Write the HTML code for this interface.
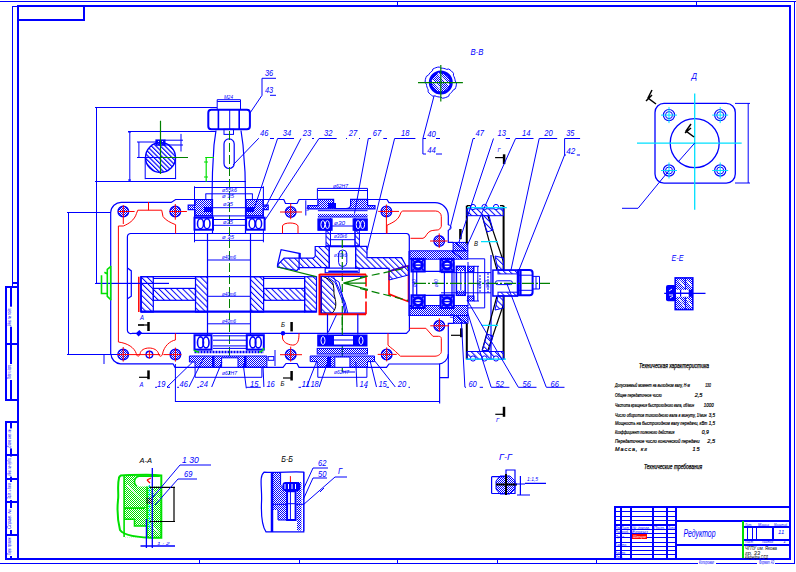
<!DOCTYPE html>
<html><head><meta charset="utf-8">
<style>
html,body{margin:0;padding:0;background:#fff;width:796px;height:572px;overflow:hidden}
svg{display:block}
text{font-family:"Liberation Sans",sans-serif;font-style:italic}
</style></head><body>
<svg width="796" height="572" viewBox="0 0 796 572">
<defs>
<pattern id="h" width="4.2" height="4.2" patternUnits="userSpaceOnUse" patternTransform="rotate(-45)"><rect x="0" y="0" width="1" height="4.2" fill="#0000ff"/></pattern>
<pattern id="h2" width="3.2" height="3.2" patternUnits="userSpaceOnUse" patternTransform="rotate(-45)"><rect x="0" y="0" width="1.2" height="3.2" fill="#0000ff"/></pattern>
<pattern id="xh" width="2" height="2" patternUnits="userSpaceOnUse"><rect x="0" y="0" width="1" height="1" fill="#0000ff"/><rect x="1" y="1" width="1" height="1" fill="#0000ff"/></pattern>
<pattern id="xg" width="2" height="2" patternUnits="userSpaceOnUse"><rect x="0" y="0" width="1" height="1" fill="#00e000"/><rect x="1" y="1" width="1" height="1" fill="#00e000"/></pattern>
</defs>
<g shape-rendering="crispEdges">
<path d="M0 1.5H796M12.5 6V286M12 6.5H17M794.5 1V564M0 563.5H795M397.5 1V5M696.5 1V5M199.5 559V563M299 559V563M397.5 559V563M497.5 559V563M596.5 559V563" stroke="#0000ff" stroke-width="1" fill="none" />
<path d="M17 6H791M18 5V560M790 5V560M5 559H791M17 20H85M84 5V21" stroke="#0000ff" stroke-width="2" fill="none" />
<path d="M6 286V401M6 421V559M11 286V401M11 421V559M5 287H18M5 344H18M5 400H18M5 422H18M5 455H18M5 479H18M5 502H18M5 535H18M12 282.5H18" stroke="#0000ff" stroke-width="2" fill="none" />
<path d="M614 507H790M615 506V559M631 507V559M653 507V559M667 507V559M676 507V559M676 521H790M676 545H790M614 525H676M621 507V559" stroke="#0000ff" stroke-width="2" fill="none" />
<path d="M614 511.5H676M614 516H676M614 520.5H676M614 529.5H676M614 533.5H676M614 537.5H676M614 542H676M614 546H676M614 550.5H676M614 554.5H676" stroke="#0000ff" stroke-width="1" fill="none" />
<path d="M743 527H790M743 539.5H790M773 526V539.5" stroke="#0000ff" stroke-width="2" fill="none" />
<path d="M747.5 527V539M752 527V539M756.5 527V539" stroke="#0000ff" stroke-width="1" fill="none" />
<path d="M743 521V558" stroke="#00e000" stroke-width="2" fill="none" />
</g>
<path d="M96.5 107V283.5M95 107.5H217M95 181.5H246M95 283.5H169M128 131.5H216" stroke="#0000ff" stroke-width="1" fill="none" />
<path d="M68.5 212V355M67 212.5H111M67 354.5H118M104 354V364" stroke="#0000ff" stroke-width="1" fill="none" />
<path d="M110.7 354V212.5A10.5 10.5 0 0 1 121.4 202.4H171.2L175.6 199.5H195M263 199.5H283.8L285.5 203.5H297L299 199.5H317M367.5 199.5H387L388.9 202.6H435A13.3 13.3 0 0 1 448.3 215.9V225M448.3 229.9V242.4H453.1" stroke="#0000ff" stroke-width="1.2" fill="none" />
<path d="M448.3 225C452 225 452 229.9 448.3 229.9" stroke="#0000ff" stroke-width="1" fill="none" />
<path d="M111 354A10 10 0 0 0 120.5 363.8H173L175 367.3H283L286 363.5H297L299 367.3H386.5L389 364H438.5A10 10 0 0 0 448.3 354.5V323.3H453.5" stroke="#0000ff" stroke-width="1.2" fill="none" />
<path d="M439.6 364V403.4M448.3 354V377.6H439.6" stroke="#0000ff" stroke-width="1.2" fill="none" />
<path d="M127.4 330V236.7A3.5 3.5 0 0 1 130.9 233.5H406.5A3 3 0 0 1 409.3 236.4V251" stroke="#0000ff" stroke-width="1.2" fill="none" />
<path d="M127.4 330A3.5 3.5 0 0 0 132.4 333.3H406.4L409.4 330.3V315" stroke="#0000ff" stroke-width="1.2" fill="none" />
<path d="M118.4 226V342M118.4 226H123.3C128.3 224 134.6 220.3 136.5 213.4L137.8 210.2H161.7L163 216.5C165.5 220.3 170.5 222.6 175.6 224.7V233.5M148.5 202V210.2" stroke="#ff0000" stroke-width="1" fill="none" />
<path d="M118.4 342C128 343.3 134.3 347.7 136.2 353.4C137 357 139 357 140 354C141 346 157 346 158.6 354C159.5 357 161.5 357 162.5 354C164 346 170 341 175.4 340V333.3" stroke="#ff0000" stroke-width="1" fill="none" />
<path d="M282.5 226C283 222 297 222 298 226V233.5M282.5 226V233.5" stroke="#ff0000" stroke-width="1" fill="none" />
<path d="M282.5 333.3V338C283 343 290 345.5 294 345C298 344 299 340 299 333.3" stroke="#ff0000" stroke-width="1" fill="none" />
<path d="M387 233.5V225.3C394 222 399 219.6 400.9 212.4L402.7 211H435.7A5.6 5.6 0 0 1 441.3 216.6V226.4C440.5 228.5 439 229.9 437.8 229.9C434 230.2 431 230.6 430 231.3C427 233 426 236 425.2 236.9L423 238.3H410.5" stroke="#ff0000" stroke-width="1" fill="none" />
<path d="M388 333.3V345.2C391 348 394 350 395.5 351.5L400.5 356.2H435C438 356.2 441.3 354 441.3 351.7V338.4C441.3 337 440 336.3 438.5 336.3H432.9L425.9 328.3H409.4" stroke="#ff0000" stroke-width="1" fill="none" />
<circle cx="123.3" cy="211.5" r="5.3" fill="url(#xh)" stroke="#0000ff" stroke-width="1.4" />
<line x1="118.3" y1="211.5" x2="134.6" y2="211.5" stroke="#ff0000" stroke-width="1" />
<line x1="123.3" y1="205.2" x2="123.3" y2="224.0" stroke="#ff0000" stroke-width="1" />
<circle cx="175.3" cy="211.5" r="5.3" fill="url(#xh)" stroke="#0000ff" stroke-width="1.4" />
<line x1="169.3" y1="211.5" x2="186.9" y2="211.5" stroke="#ff0000" stroke-width="1" />
<line x1="175.3" y1="204.0" x2="175.3" y2="219.7" stroke="#ff0000" stroke-width="1" />
<circle cx="290.7" cy="212" r="5.3" fill="url(#xh)" stroke="#0000ff" stroke-width="1.4" />
<line x1="280.0" y1="212" x2="302.0" y2="212" stroke="#ff0000" stroke-width="1" />
<line x1="290.7" y1="203.5" x2="290.7" y2="219.2" stroke="#ff0000" stroke-width="1" />
<circle cx="386.4" cy="211.4" r="5.3" fill="url(#xh)" stroke="#0000ff" stroke-width="1.4" />
<line x1="378.2" y1="211.4" x2="399.0" y2="211.4" stroke="#ff0000" stroke-width="1" />
<line x1="386.4" y1="204.5" x2="386.4" y2="233.4" stroke="#ff0000" stroke-width="1" />
<circle cx="439.2" cy="241" r="5.3" fill="url(#xh)" stroke="#0000ff" stroke-width="1.4" />
<line x1="430.0" y1="241" x2="447.59999999999997" y2="241" stroke="#ff0000" stroke-width="1" />
<line x1="439.2" y1="233.4" x2="439.2" y2="248" stroke="#ff0000" stroke-width="1" />
<circle cx="123.2" cy="354.6" r="5.3" fill="url(#xh)" stroke="#0000ff" stroke-width="1.4" />
<line x1="117.2" y1="354.6" x2="160.2" y2="354.6" stroke="#ff0000" stroke-width="1" />
<line x1="123.2" y1="347.0" x2="123.2" y2="361.6" stroke="#ff0000" stroke-width="1" />
<circle cx="175.4" cy="354.6" r="5.3" fill="url(#xh)" stroke="#0000ff" stroke-width="1.4" />
<line x1="163.4" y1="354.6" x2="181.4" y2="354.6" stroke="#ff0000" stroke-width="1" />
<line x1="175.4" y1="347.6" x2="175.4" y2="361.6" stroke="#ff0000" stroke-width="1" />
<circle cx="290.7" cy="354.7" r="5.3" fill="url(#xh)" stroke="#0000ff" stroke-width="1.4" />
<line x1="280.0" y1="354.7" x2="302.0" y2="354.7" stroke="#ff0000" stroke-width="1" />
<line x1="290.7" y1="346.7" x2="290.7" y2="361.7" stroke="#ff0000" stroke-width="1" />
<circle cx="386.7" cy="354.4" r="5.3" fill="url(#xh)" stroke="#0000ff" stroke-width="1.4" />
<line x1="377.7" y1="354.4" x2="396.7" y2="354.4" stroke="#ff0000" stroke-width="1" />
<line x1="386.7" y1="347.4" x2="386.7" y2="361.4" stroke="#ff0000" stroke-width="1" />
<circle cx="439.3" cy="325.8" r="5.3" fill="url(#xh)" stroke="#0000ff" stroke-width="1.4" />
<line x1="430.3" y1="325.8" x2="449.1" y2="325.8" stroke="#ff0000" stroke-width="1" />
<line x1="439.3" y1="318.3" x2="439.3" y2="331.5" stroke="#ff0000" stroke-width="1" />
<circle cx="149.4" cy="354.6" r="3.3" fill="#fff" stroke="#0000ff" stroke-width="1.4" />
<line x1="145.4" y1="354.6" x2="153.4" y2="354.6" stroke="#ff0000" stroke-width="1" />
<line x1="149.4" y1="350.6" x2="149.4" y2="358.6" stroke="#ff0000" stroke-width="1" />
<rect x="208.3" y="109.7" width="41.6" height="19.6" rx="3" fill="#fff" stroke="#0000ff" stroke-width="2"/>
<path d="M218.4 110V129M239.2 110V129" stroke="#0000ff" stroke-width="1.6" fill="none" />
<path d="M229.7 110V129" stroke="#0000ff" stroke-width="1" fill="none" />
<path d="M217.2 109V99.7H240.5V109M217.2 101.5H240.5" stroke="#0000ff" stroke-width="1" fill="none" />
<rect x="224" y="129.3" width="9.5" height="5.099999999999994" fill="none" stroke="#0000ff" stroke-width="1" />
<path d="M216 130.5L214 145L212.5 172L212 199M241 130.5L243 145L245 172L245.5 199" stroke="#0000ff" stroke-width="1.2" fill="none" />
<rect x="224" y="138.9" width="10.2" height="29.6" rx="5" fill="none" stroke="#0000ff" stroke-width="1.2"/>
<path d="M229.5 131V374" stroke="#008000" stroke-width="1" fill="none" stroke-dasharray="9 3"/>
<path d="M205.2 157.5H214M206.2 157.5V181.7M204 162H208M204 177H208" stroke="#00e000" stroke-width="1.2" fill="none" />
<path d="M194.5 186.3V242.3M263.4 186.3V242.3M194 187.5H264M194 240.4H264" stroke="#0000ff" stroke-width="1" fill="none" />
<path d="M205.8 193.8V199M252.4 193.8V199M205.5 193.8H252.7" stroke="#0000ff" stroke-width="1" fill="none" />
<path d="M212.5 199V233M245.5 199V233M207.5 233V333M250.5 233V333" stroke="#0000ff" stroke-width="1.2" fill="none" />
<path d="M195.1 199.5H212.1V215.9H195.1V209.6H188.2V205.2H195.1Z" stroke="#0000ff" stroke-width="1.2" fill="url(#xh)" />
<path d="M263.1 199.5H246.1V215.9H263.1V209.6H268.2V205.2H263.1Z" stroke="#0000ff" stroke-width="1.2" fill="url(#xh)" />
<rect x="204" y="207" width="8" height="5" fill="#0000ff" stroke="none" />
<rect x="246" y="207" width="8" height="5" fill="#0000ff" stroke="none" />
<path d="M212.5 207.7H245.5M195 215.9H263M212.5 225.3H245.5M212.5 219.5H245.5" stroke="#0000ff" stroke-width="1" fill="none" />
<rect x="194.5" y="217.7" width="18.5" height="12.0" fill="#fff" stroke="#0000ff" stroke-width="2" />
<ellipse cx="200.5" cy="223.7" rx="3" ry="5" fill="none" stroke="#0000ff" stroke-width="1.5"/>
<ellipse cx="207.0" cy="223.7" rx="3" ry="5" fill="none" stroke="#0000ff" stroke-width="1.5"/>
<rect x="246.1" y="217.7" width="18.50000000000003" height="12.0" fill="#fff" stroke="#0000ff" stroke-width="2" />
<ellipse cx="252.1" cy="223.7" rx="3" ry="5" fill="none" stroke="#0000ff" stroke-width="1.5"/>
<ellipse cx="258.6" cy="223.7" rx="3" ry="5" fill="none" stroke="#0000ff" stroke-width="1.5"/>
<path d="M207.5 260H250.5M207.5 296.3H250.5M207.5 323.8H250.5" stroke="#0000ff" stroke-width="1" fill="none" />
<path d="M141 276.7H304.6V312H141Z" stroke="#0000ff" stroke-width="1.2" fill="none" />
<path d="M141 276.7V312" stroke="#0000ff" stroke-width="1.2" fill="none" />
<path d="M138.8 276.7V312" stroke="#ff0000" stroke-width="1.5" fill="none" />
<rect x="141" y="276.7" width="12.300000000000011" height="35.30000000000001" fill="url(#h)" stroke="#0000ff" stroke-width="1.2" />
<rect x="195.5" y="276.7" width="12.0" height="35.30000000000001" fill="url(#h)" stroke="#0000ff" stroke-width="1.2" />
<rect x="250.5" y="276.7" width="13.100000000000023" height="35.30000000000001" fill="url(#h)" stroke="#0000ff" stroke-width="1.2" />
<rect x="304.6" y="276.7" width="11.899999999999977" height="35.30000000000001" fill="url(#h)" stroke="#0000ff" stroke-width="1.2" />
<rect x="153.3" y="288.4" width="42.19999999999999" height="11.900000000000034" fill="url(#h)" stroke="#0000ff" stroke-width="1.2" />
<rect x="263.6" y="288.4" width="41.0" height="11.900000000000034" fill="url(#h)" stroke="#0000ff" stroke-width="1.2" />
<path d="M153.3 278.5H195.5M263.6 278.5H304.6" stroke="#0000ff" stroke-width="1" fill="none" />
<path d="M141 311.5H316.5" stroke="#0000ff" stroke-width="2" fill="none" />
<path d="M96 283.3H169" stroke="#0000ff" stroke-width="1" fill="none" />
<path d="M110.7 266V300.2M111.3 266L107.3 269.4V296.3L111.3 300.2M101.5 275.2V293.5H107.3M104.4 272.3L107.3 274" stroke="#00e000" stroke-width="1.6" fill="none" />
<path d="M127.5 268L131.3 270.9V296.3L127.5 298.8" stroke="#0000ff" stroke-width="1.2" fill="none" />
<path d="M317.4 199V188.4H367.5V199M317.4 190.5H367.5" stroke="#0000ff" stroke-width="1" fill="none" />
<path d="M317.9 199.4H333.6V206C334 208 336 208.5 338 208.5H346C349 208.5 350.6 207 350.6 205V199.4H367.6V205.7H375V208.9H307.8V205.7H317.9Z" stroke="#0000ff" stroke-width="1.2" fill="url(#xh)" />
<rect x="328" y="203" width="8" height="5.5" fill="#0000ff" stroke="none" />
<path d="M317.9 210.7H367.6M317.9 217H367.6" stroke="#0000ff" stroke-width="1" fill="none" />
<rect x="317.9" y="213.9" width="49.700000000000045" height="3.0999999999999943" fill="url(#xh)" stroke="none" />
<path d="M305.8 200.3V215.5" stroke="#0000ff" stroke-width="1" fill="none" />
<rect x="317.9" y="218.9" width="14.199999999999989" height="11.400000000000006" fill="#0000ff" stroke="#0000ff" stroke-width="1" />
<ellipse cx="322.9" cy="224.6" rx="2" ry="4" fill="none" stroke="#fff" stroke-width="1"/>
<ellipse cx="327.4" cy="224.6" rx="2" ry="4" fill="none" stroke="#fff" stroke-width="1"/>
<rect x="353.1" y="218.9" width="14.199999999999989" height="11.400000000000006" fill="#0000ff" stroke="#0000ff" stroke-width="1" />
<ellipse cx="358.1" cy="224.6" rx="2" ry="4" fill="none" stroke="#fff" stroke-width="1"/>
<ellipse cx="362.6" cy="224.6" rx="2" ry="4" fill="none" stroke="#fff" stroke-width="1"/>
<rect x="326" y="230.3" width="4.5" height="15.699999999999989" fill="url(#h)" stroke="#0000ff" stroke-width="1" />
<rect x="355" y="230.3" width="4.399999999999977" height="15.699999999999989" fill="url(#h)" stroke="#0000ff" stroke-width="1" />
<path d="M330.5 218V246M355 218V246M330.5 239.7H355M331 226H354" stroke="#0000ff" stroke-width="1" fill="none" />
<path d="M326 246.3H359.4" stroke="#0000ff" stroke-width="2" fill="none" />
<path d="M315.2 246.5H329.3V267.6H299L297 270.7L277.5 267L277.5 265.1L284.1 258.1H313.2C314.5 257.5 315.2 256.5 315.2 256.1Z" stroke="#0000ff" stroke-width="1.2" fill="url(#h)" />
<path d="M355.6 246.3H367V257.6H401.6L406 265.8L389 271V268.3H355.6Z" stroke="#0000ff" stroke-width="1.2" fill="url(#h)" />
<path d="M277.5 265L281.1 249.6L300.2 253.6V258.1M299.1 253.6V270" stroke="#0000ff" stroke-width="1.2" fill="none" />
<path d="M329.2 246.3V268.3M355.6 246.3V268.3" stroke="#0000ff" stroke-width="1.2" fill="none" />
<rect x="338.6" y="250" width="8.2" height="16.5" rx="4" fill="none" stroke="#0000ff" stroke-width="1"/>
<path d="M342.3 240V330" stroke="#008000" stroke-width="1.2" fill="none" stroke-dasharray="8 3"/>
<rect x="325.2" y="268.1" width="33.900000000000034" height="4.699999999999989" fill="none" stroke="#0000ff" stroke-width="1.2" />
<path d="M328.3 271.3H357.9" stroke="#0000ff" stroke-width="1.5" fill="none" />
<path d="M321.4 276.3H322.6C327 278 331 280 332.7 282.6C334 287 334 291 334 294C335 298 335.8 301 335.8 304C335.8 307 335.2 310.3 332 313.2H321.4Z" stroke="#000000" stroke-width="1" fill="url(#h)" />
<path d="M320.8 276V313.5" stroke="#0000ff" stroke-width="2" fill="none" />
<path d="M319 276.3H366M319 313.2H366" stroke="#0000ff" stroke-width="1.2" fill="none" />
<path d="M319.5 274.4H366M319.5 274V314.3H366" stroke="#ff0000" stroke-width="2" fill="none" />
<path d="M366 274.4V314.3" stroke="#ff0000" stroke-width="1.6" fill="none" stroke-dasharray="12 3 9 3 20"/>
<path d="M327 276.3L335.2 282.6L342.8 301.5L344.7 313.2M333.3 276.3L345.3 302.7L347.8 313.2M330 276.3L339 282L344 302L346 313" stroke="#0000ff" stroke-width="1" fill="none" />
<path d="M277.5 267L316.2 276.7" stroke="#008000" stroke-width="1.2" fill="none" />
<path d="M343.4 283.2L365.4 277M343.4 283.2L368 289.5M343.4 283.2H366" stroke="#008000" stroke-width="1.2" fill="none" />
<path d="M328.3 332.3L336.5 314.7" stroke="#0000ff" stroke-width="1" fill="none" />
<path d="M389 271.4L408.5 265.8V301.7L389 294.1Z" stroke="#ff0000" stroke-width="1.6" fill="none" />
<path d="M389 271.4L408.5 265.8V275L389 280Z" stroke="#0000ff" stroke-width="1" fill="url(#h)" />
<path d="M360 277.7L408 267.7M360 288.5L408 300.4" stroke="#008000" stroke-width="1.2" fill="none" stroke-dasharray="8 4"/>
<path d="M409.1 251V316" stroke="#0000ff" stroke-width="1.5" fill="none" />
<rect x="409.8" y="250.8" width="58.0" height="8.399999999999977" fill="url(#xh)" stroke="#0000ff" stroke-width="1" />
<rect x="409.8" y="305.5" width="58.0" height="10.0" fill="url(#xh)" stroke="#0000ff" stroke-width="1" />
<rect x="453.1" y="242.4" width="14.699999999999989" height="8.400000000000006" fill="url(#xh)" stroke="#0000ff" stroke-width="1" />
<rect x="453.5" y="315.5" width="14.5" height="7.800000000000011" fill="url(#xh)" stroke="#0000ff" stroke-width="1" />
<path d="M452 251L462 259M456 243L466 251M456 316L466 323" stroke="#0000ff" stroke-width="1.2" fill="none" />
<rect x="411.6" y="258.9" width="13.0" height="12.5" fill="#fff" stroke="#0000ff" stroke-width="2.2" />
<ellipse cx="418.1" cy="265.09999999999997" rx="4.3" ry="3.9" fill="#fff" stroke="#0000ff" stroke-width="3"/>
<path d="M414.6 265.09999999999997H421.6" stroke="#0000ff" stroke-width="1.5" fill="none" />
<path d="M412.6 259.9L414.6 261.9M423.6 259.9L421.6 261.9M412.6 270.4L414.6 268.4M423.6 270.4L421.6 268.4" stroke="#0000ff" stroke-width="1.5" fill="none" />
<rect x="411.6" y="295.4" width="13.0" height="12.5" fill="#fff" stroke="#0000ff" stroke-width="2.2" />
<ellipse cx="418.1" cy="301.59999999999997" rx="4.3" ry="3.9" fill="#fff" stroke="#0000ff" stroke-width="3"/>
<path d="M414.6 301.59999999999997H421.6" stroke="#0000ff" stroke-width="1.5" fill="none" />
<path d="M412.6 296.4L414.6 298.4M423.6 296.4L421.6 298.4M412.6 306.9L414.6 304.9M423.6 306.9L421.6 304.9" stroke="#0000ff" stroke-width="1.5" fill="none" />
<rect x="440.6" y="258.9" width="13.0" height="12.5" fill="#fff" stroke="#0000ff" stroke-width="2.2" />
<ellipse cx="447.1" cy="265.09999999999997" rx="4.3" ry="3.9" fill="#fff" stroke="#0000ff" stroke-width="3"/>
<path d="M443.6 265.09999999999997H450.6" stroke="#0000ff" stroke-width="1.5" fill="none" />
<path d="M441.6 259.9L443.6 261.9M452.6 259.9L450.6 261.9M441.6 270.4L443.6 268.4M452.6 270.4L450.6 268.4" stroke="#0000ff" stroke-width="1.5" fill="none" />
<rect x="440.6" y="295.4" width="13.0" height="12.5" fill="#fff" stroke="#0000ff" stroke-width="2.2" />
<ellipse cx="447.1" cy="301.59999999999997" rx="4.3" ry="3.9" fill="#fff" stroke="#0000ff" stroke-width="3"/>
<path d="M443.6 301.59999999999997H450.6" stroke="#0000ff" stroke-width="1.5" fill="none" />
<path d="M441.6 296.4L443.6 298.4M452.6 296.4L450.6 298.4M441.6 306.9L443.6 304.9M452.6 306.9L450.6 304.9" stroke="#0000ff" stroke-width="1.5" fill="none" />
<path d="M424 271.4H440.6M424 295.4H440.6M416.7 271V296M444.4 271V296M413 271.4V295.4M452 271.4V295.4" stroke="#0000ff" stroke-width="1.2" fill="none" />
<path d="M441 272.6H491M441 292.8H491" stroke="#0000ff" stroke-width="1" fill="none" />
<rect x="456.4" y="266.3" width="8.800000000000011" height="29.0" fill="none" stroke="#0000ff" stroke-width="1.5" />
<rect x="456.4" y="266.3" width="8.800000000000011" height="4.699999999999989" fill="url(#xh)" stroke="none" />
<rect x="456.4" y="290.5" width="8.800000000000011" height="4.800000000000011" fill="url(#xh)" stroke="none" />
<rect x="467.7" y="266.3" width="6.300000000000011" height="5.099999999999966" fill="url(#xh)" stroke="#0000ff" stroke-width="1" />
<rect x="467.7" y="296" width="6.300000000000011" height="5" fill="url(#xh)" stroke="#0000ff" stroke-width="1" />
<path d="M460.8 271V290M473.4 266V301M477.8 266V301M484.7 258.8V307.9M467.7 258.8H484.7M467.7 307.9H484.7M474 266.3H479M474 301H479" stroke="#0000ff" stroke-width="1" fill="none" />
<path d="M480 275V292M488 273V294" stroke="#0000ff" stroke-width="1" fill="none" stroke-dasharray="2 1"/>
<path d="M454 262V306M468 262V306" stroke="#0000ff" stroke-width="1" fill="none" />
<path d="M491 255V360" stroke="#0000ff" stroke-width="1.2" fill="none" />
<path d="M466.8 205.7V243.5M466.8 323.5V359.5M503.6 205.7V270M503.6 296V359.5" stroke="#000000" stroke-width="2" fill="none" />
<path d="M466.8 205.7H471M500 205.7H503.6" stroke="#000000" stroke-width="1.2" fill="none" />
<path d="M466.8 208.8H503.6V215.7H466.8Z" stroke="#0000ff" stroke-width="1" fill="url(#h)" />
<path d="M466.8 351.5H503.6V359.2H466.8Z" stroke="#0000ff" stroke-width="1" fill="url(#h)" />
<circle cx="473" cy="207" r="2.6" fill="#fff" stroke="#0000ff" stroke-width="1" />
<circle cx="473" cy="358.5" r="2.6" fill="#fff" stroke="#0000ff" stroke-width="1" />
<circle cx="484.5" cy="207" r="2.6" fill="#fff" stroke="#0000ff" stroke-width="1" />
<circle cx="484.5" cy="358.5" r="2.6" fill="#fff" stroke="#0000ff" stroke-width="1" />
<circle cx="496" cy="207" r="2.6" fill="#fff" stroke="#0000ff" stroke-width="1" />
<circle cx="496" cy="358.5" r="2.6" fill="#fff" stroke="#0000ff" stroke-width="1" />
<path d="M467 207.6H506.8M466 359.2H506" stroke="#00e0ff" stroke-width="1.2" fill="none" />
<path d="M482.2 215.7L497 270M487.9 215.7L503.6 262M482.2 350.5L497 296M487.9 350.5L503.6 304" stroke="#000000" stroke-width="1.2" fill="none" />
<path d="M482.2 215.7H489L493 230L487 232Z" stroke="#0000ff" stroke-width="1" fill="url(#h)" />
<path d="M495 256L503.6 258V270H498Z" stroke="#0000ff" stroke-width="1" fill="url(#h)" />
<path d="M495 310L503.6 308V296H498Z" stroke="#0000ff" stroke-width="1" fill="url(#h)" />
<path d="M482.2 350.5H489L493 336L487 334Z" stroke="#0000ff" stroke-width="1" fill="url(#h)" />
<path d="M481 241.6H497.9M481.5 325.3H498.1" stroke="#00e0ff" stroke-width="1.2" fill="none" />
<text x="474" y="246" font-size="6.94" fill="#000000" textLength="4.0" lengthAdjust="spacingAndGlyphs">В</text>
<rect x="492.9" y="270.1" width="24.600000000000023" height="25.899999999999977" fill="none" stroke="#0000ff" stroke-width="1.5" />
<rect x="498" y="270.1" width="19.5" height="3.7999999999999545" fill="url(#h)" stroke="#0000ff" stroke-width="1" />
<rect x="498" y="292.2" width="19.5" height="3.8000000000000114" fill="url(#h)" stroke="#0000ff" stroke-width="1" />
<rect x="495.4" y="280.8" width="17" height="3.8" rx="1.9" fill="none" stroke="#0000ff" stroke-width="1"/>
<path d="M518.7 270.1H529.6Q532.6 270.1 532.6 273.1V292.3Q532.6 295.3 529.6 295.3H518.7Z" fill="#fff" stroke="#0000ff" stroke-width="2"/>
<path d="M520.6 271V295" stroke="#0000ff" stroke-width="2" fill="none" />
<path d="M518.7 275.2H532.6M518.7 290.3H532.6" stroke="#0000ff" stroke-width="1" fill="none" />
<path d="M532.6 276.4H539.5V289H532.6M536 276.4V289" stroke="#0000ff" stroke-width="1" fill="none" />
<path d="M414 283.4H550" stroke="#008000" stroke-width="1.2" fill="none" stroke-dasharray="12 2 2 2"/>
<path d="M207.5 333V335M250.5 333V335" stroke="#0000ff" stroke-width="1" fill="none" />
<rect x="194.5" y="335.2" width="17.0" height="14.400000000000034" fill="#fff" stroke="#0000ff" stroke-width="2" />
<ellipse cx="200.5" cy="342.4" rx="3" ry="5.5" fill="none" stroke="#0000ff" stroke-width="1.6"/>
<ellipse cx="206.0" cy="342.4" rx="3" ry="5.5" fill="none" stroke="#0000ff" stroke-width="1.6"/>
<rect x="246.8" y="335.2" width="17.0" height="14.400000000000034" fill="#fff" stroke="#0000ff" stroke-width="2" />
<ellipse cx="252.8" cy="342.4" rx="3" ry="5.5" fill="none" stroke="#0000ff" stroke-width="1.6"/>
<ellipse cx="258.3" cy="342.4" rx="3" ry="5.5" fill="none" stroke="#0000ff" stroke-width="1.6"/>
<path d="M213 335.8H246M213 340.2H246M213 345.9H246M213 348.4H246" stroke="#0000ff" stroke-width="1" fill="none" />
<path d="M194.5 352H263.8" stroke="#0000ff" stroke-width="2.5" fill="none" stroke-dasharray="2 1"/>
<path d="M189.4 356H266.9V367.3H195V362H189.4Z" stroke="#0000ff" stroke-width="1" fill="url(#xh)" />
<rect x="221.6" y="357.8" width="16.400000000000006" height="9.5" fill="#fff" stroke="#0000ff" stroke-width="1" />
<rect x="212" y="356" width="2.5" height="11.300000000000011" fill="#0000ff" stroke="none" />
<rect x="244" y="356" width="2.5" height="11.300000000000011" fill="#0000ff" stroke="none" />
<path d="M195.1 367V377.3H261.9V367" stroke="#0000ff" stroke-width="1" fill="none" />
<rect x="268.2" y="356.6" width="5.600000000000023" height="3.6999999999999886" fill="none" stroke="#0000ff" stroke-width="1" />
<path d="M275 350V366" stroke="#0000ff" stroke-width="1" fill="none" />
<path d="M194 350C196 352 197 352 199 352M259 352C262 352 263 350 264 348" stroke="#00e000" stroke-width="1.5" fill="none" />
<path d="M327.5 314V334.5M357.8 314V334.5" stroke="#0000ff" stroke-width="1.2" fill="none" />
<path d="M342.3 314V372" stroke="#008000" stroke-width="1.2" fill="none" />
<rect x="317.2" y="334.5" width="50.30000000000001" height="12.0" fill="#0000ff" stroke="none" />
<ellipse cx="323" cy="340.5" rx="2" ry="4" fill="none" stroke="#fff" stroke-width="1"/>
<ellipse cx="361" cy="340.5" rx="2" ry="4" fill="none" stroke="#fff" stroke-width="1"/>
<rect x="334" y="336" width="19" height="8.5" fill="#fff" stroke="none" />
<path d="M334 340H353" stroke="#0000ff" stroke-width="1" fill="none" />
<rect x="317.2" y="348.4" width="50.30000000000001" height="5.600000000000023" fill="url(#xh)" stroke="#0000ff" stroke-width="1" />
<path d="M310.2 356H374.5V361.6H367.5V367.3H317.2V361.6H310.2Z" stroke="#0000ff" stroke-width="1" fill="url(#xh)" />
<rect x="334.8" y="357" width="15.099999999999966" height="10.300000000000011" fill="#fff" stroke="#0000ff" stroke-width="1" />
<rect x="327" y="357" width="4" height="10" fill="#0000ff" stroke="none" />
<path d="M317.8 367V377.3H366.9V367M342 372H355" stroke="#0000ff" stroke-width="1" fill="none" />
<path d="M175.4 364V402M175 401.5H440" stroke="#0000ff" stroke-width="1" fill="none" />
<path d="M148.5 322V331" stroke="#000000" stroke-width="2.5" fill="none" />
<path d="M138 325H148.5" stroke="#000000" stroke-width="1.2" fill="none" />
<path d="M148.5 370.4V379.2" stroke="#000000" stroke-width="2.5" fill="none" />
<path d="M139 377.3H148.5" stroke="#000000" stroke-width="1.2" fill="none" />
<path d="M291.6 322V331.4" stroke="#000000" stroke-width="2.5" fill="none" />
<path d="M291.6 371V380.5" stroke="#000000" stroke-width="2.5" fill="none" />
<path d="M283 378H291.6" stroke="#000000" stroke-width="1.2" fill="none" />
<path d="M461.3 328.3V337.2" stroke="#000000" stroke-width="2.5" fill="none" />
<path d="M451 335.3H461.3" stroke="#000000" stroke-width="1.2" fill="none" />
<path d="M504.1 154.3V164.1" stroke="#000000" stroke-width="2.5" fill="none" />
<path d="M495.1 157.6H504.1" stroke="#000000" stroke-width="1.2" fill="none" />
<path d="M460.4 229V239.2" stroke="#000000" stroke-width="2.5" fill="none" />
<path d="M504 406.8V416.8" stroke="#000000" stroke-width="2.5" fill="none" />
<path d="M495.3 414.3H504" stroke="#000000" stroke-width="1.2" fill="none" />
<path d="M138 325H144" stroke="#000000" stroke-width="1.2" fill="none" />
<rect x="137" y="331" width="4" height="5" fill="#0000ff" stroke="none" transform="rotate(45 139.3 333.3)"/>
<circle cx="283" cy="333.3" r="2.2" fill="#0000ff" stroke="none" />
<text x="140" y="320" font-size="6.94" fill="#0000ff" textLength="4.0" lengthAdjust="spacingAndGlyphs">А</text>
<text x="139.5" y="387" font-size="6.94" fill="#0000ff" textLength="4.0" lengthAdjust="spacingAndGlyphs">А</text>
<text x="281" y="327" font-size="6.94" fill="#000000" textLength="4.0" lengthAdjust="spacingAndGlyphs">Б</text>
<text x="450" y="318" font-size="6" fill="#0000ff" >В</text>
<text x="496" y="422" font-size="6" fill="#0000ff" >Г</text>
<path d="M270 138.5H274" stroke="#0000ff" stroke-width="1" fill="none" />
<text x="260" y="136.3" font-size="9.72" fill="#0000ff" textLength="8.4" lengthAdjust="spacingAndGlyphs">46</text>
<path d="M258.8 138.2L233 165" stroke="#0000ff" stroke-width="1" fill="none" />
<path d="M277.6 138.5H294" stroke="#0000ff" stroke-width="1" fill="none" />
<text x="282.7" y="136.3" font-size="9.72" fill="#0000ff" textLength="8.4" lengthAdjust="spacingAndGlyphs">34</text>
<path d="M277.6 138.5L253 212" stroke="#0000ff" stroke-width="1" fill="none" />
<path d="M312 138.5H314" stroke="#0000ff" stroke-width="1" fill="none" />
<text x="302.8" y="136.3" font-size="9.72" fill="#0000ff" textLength="8.4" lengthAdjust="spacingAndGlyphs">23</text>
<path d="M300.9 138.5L265 208" stroke="#0000ff" stroke-width="1" fill="none" />
<path d="M319 138.5H336.7" stroke="#0000ff" stroke-width="1" fill="none" />
<text x="324.1" y="136.3" font-size="9.72" fill="#0000ff" textLength="8.4" lengthAdjust="spacingAndGlyphs">32</text>
<path d="M319 138.5L265 220" stroke="#0000ff" stroke-width="1" fill="none" />
<path d="M346 138.5H347" stroke="#0000ff" stroke-width="1" fill="none" />
<text x="348.8" y="136.3" font-size="9.72" fill="#0000ff" textLength="8.4" lengthAdjust="spacingAndGlyphs">27</text>
<path d="M383.3 138.5H387" stroke="#0000ff" stroke-width="1" fill="none" />
<text x="372.7" y="136.3" font-size="9.72" fill="#0000ff" textLength="8.4" lengthAdjust="spacingAndGlyphs">67</text>
<path d="M368.3 138.5L354.5 213.5" stroke="#0000ff" stroke-width="1" fill="none" />
<path d="M394.6 138.5H415.4" stroke="#0000ff" stroke-width="1" fill="none" />
<text x="401" y="136.3" font-size="9.72" fill="#0000ff" textLength="8.4" lengthAdjust="spacingAndGlyphs">18</text>
<path d="M394.6 138.5L367.2 250" stroke="#0000ff" stroke-width="1" fill="none" />
<path d="M473.1 138.5H475" stroke="#0000ff" stroke-width="1" fill="none" />
<text x="475.5" y="136.3" font-size="9.72" fill="#0000ff" textLength="8.4" lengthAdjust="spacingAndGlyphs">47</text>
<path d="M473.1 138.5L449.6 230" stroke="#0000ff" stroke-width="1" fill="none" />
<path d="M505.7 138.5H510" stroke="#0000ff" stroke-width="1" fill="none" />
<text x="497.6" y="136.3" font-size="9.72" fill="#0000ff" textLength="8.4" lengthAdjust="spacingAndGlyphs">13</text>
<path d="M493.5 138.5L459 242" stroke="#0000ff" stroke-width="1" fill="none" />
<path d="M515.6 138.5H533.5" stroke="#0000ff" stroke-width="1" fill="none" />
<text x="522" y="136.3" font-size="9.72" fill="#0000ff" textLength="8.4" lengthAdjust="spacingAndGlyphs">14</text>
<path d="M515.6 138.5L467 246" stroke="#0000ff" stroke-width="1" fill="none" />
<path d="M539.2 138.5H557.2" stroke="#0000ff" stroke-width="1" fill="none" />
<text x="544.2" y="136.3" font-size="9.72" fill="#0000ff" textLength="8.4" lengthAdjust="spacingAndGlyphs">20</text>
<path d="M539.2 138.5L511 270" stroke="#0000ff" stroke-width="1" fill="none" />
<path d="M359 138.5H360M368.3 138.5H371" stroke="#0000ff" stroke-width="1" fill="none" />
<path d="M262 78.3H276M262 78.3V95.3M250 113L262 95.3M270 95.3H276" stroke="#0000ff" stroke-width="1" fill="none" />
<text x="265" y="75.7" font-size="9.72" fill="#0000ff" textLength="8.2" lengthAdjust="spacingAndGlyphs">36</text>
<text x="265" y="93" font-size="9.72" fill="#0000ff" textLength="8.2" lengthAdjust="spacingAndGlyphs">43</text>
<path d="M422.9 138.5V154M422.9 138.5H426M436 138.5H440M422.9 154H426M436 154H442M422.9 138.5L434 96" stroke="#0000ff" stroke-width="1" fill="none" />
<text x="427.3" y="136.5" font-size="9.72" fill="#0000ff" textLength="8.6" lengthAdjust="spacingAndGlyphs">40</text>
<text x="427.3" y="152.5" font-size="9.72" fill="#0000ff" textLength="8.6" lengthAdjust="spacingAndGlyphs">44</text>
<path d="M564.6 138.5V155M564.6 138.5H580.1M564.6 155H566M576.8 155H580M564.6 155L519 270" stroke="#0000ff" stroke-width="1" fill="none" />
<text x="566.2" y="136.3" font-size="9.72" fill="#0000ff" textLength="8.2" lengthAdjust="spacingAndGlyphs">35</text>
<text x="566.2" y="154.3" font-size="9.72" fill="#0000ff" textLength="9.0" lengthAdjust="spacingAndGlyphs">42</text>
<text x="497.6" y="152" font-size="4.86" fill="#0000ff" textLength="3.0" lengthAdjust="spacingAndGlyphs">Г</text>
<path d="M155.1 387.3H157" stroke="#0000ff" stroke-width="1" fill="none" />
<path d="M167 387.3H170" stroke="#0000ff" stroke-width="1" fill="none" />
<text x="157" y="386.5" font-size="9.72" fill="#0000ff" textLength="8.4" lengthAdjust="spacingAndGlyphs">19</text>
<path d="M167 387L192.8 361.9" stroke="#0000ff" stroke-width="1" fill="none" />
<path d="M177.1 387.3H179" stroke="#0000ff" stroke-width="1" fill="none" />
<text x="179.5" y="386.5" font-size="9.72" fill="#0000ff" textLength="8.4" lengthAdjust="spacingAndGlyphs">46</text>
<path d="M189 387L204.3 356.5" stroke="#0000ff" stroke-width="1" fill="none" />
<path d="M197.2 387.3H199" stroke="#0000ff" stroke-width="1" fill="none" />
<text x="199.5" y="386.5" font-size="9.72" fill="#0000ff" textLength="8.4" lengthAdjust="spacingAndGlyphs">24</text>
<path d="M211.7 387L221.9 362" stroke="#0000ff" stroke-width="1" fill="none" />
<path d="M246.3 387.3H260.8" stroke="#0000ff" stroke-width="1" fill="none" />
<text x="250.1" y="386.5" font-size="9.72" fill="#0000ff" textLength="8.4" lengthAdjust="spacingAndGlyphs">15</text>
<path d="M246.3 388.3L243.2 364" stroke="#0000ff" stroke-width="1" fill="none" />
<text x="266.4" y="386.5" font-size="9.72" fill="#0000ff" textLength="8.4" lengthAdjust="spacingAndGlyphs">16</text>
<path d="M263.9 387L263 366" stroke="#0000ff" stroke-width="1" fill="none" />
<path d="M298.5 387.3H301" stroke="#0000ff" stroke-width="1" fill="none" />
<text x="301.6" y="386.5" font-size="9.72" fill="#0000ff" textLength="8.4" lengthAdjust="spacingAndGlyphs">11</text>
<path d="M306.6 387L316.7 361.3" stroke="#0000ff" stroke-width="1" fill="none" />
<text x="310.4" y="386.5" font-size="9.72" fill="#0000ff" textLength="8.4" lengthAdjust="spacingAndGlyphs">18</text>
<path d="M319.2 387L327.7 362" stroke="#0000ff" stroke-width="1" fill="none" />
<path d="M365 387.3H367" stroke="#0000ff" stroke-width="1" fill="none" />
<text x="359.5" y="386.5" font-size="9.72" fill="#0000ff" textLength="8.4" lengthAdjust="spacingAndGlyphs">14</text>
<path d="M357 387L355.8 362" stroke="#0000ff" stroke-width="1" fill="none" />
<path d="M386.5 387.3H389" stroke="#0000ff" stroke-width="1" fill="none" />
<text x="378.4" y="386.5" font-size="9.72" fill="#0000ff" textLength="8.4" lengthAdjust="spacingAndGlyphs">15</text>
<path d="M376.5 387L370.2 361.3" stroke="#0000ff" stroke-width="1" fill="none" />
<path d="M408.5 387.3H410" stroke="#0000ff" stroke-width="1" fill="none" />
<text x="397.8" y="386.5" font-size="9.72" fill="#0000ff" textLength="8.4" lengthAdjust="spacingAndGlyphs">20</text>
<path d="M395.3 387L374 360" stroke="#0000ff" stroke-width="1" fill="none" />
<path d="M464.9 387.3H466" stroke="#0000ff" stroke-width="1" fill="none" />
<path d="M479.7 387.3H483" stroke="#0000ff" stroke-width="1" fill="none" />
<text x="468.4" y="386.5" font-size="9.72" fill="#0000ff" textLength="8.4" lengthAdjust="spacingAndGlyphs">60</text>
<path d="M464.9 387L461.4 322" stroke="#0000ff" stroke-width="1" fill="none" />
<path d="M491.1 387.3H509.4" stroke="#0000ff" stroke-width="1" fill="none" />
<text x="495.5" y="386.5" font-size="9.72" fill="#0000ff" textLength="8.4" lengthAdjust="spacingAndGlyphs">52</text>
<path d="M491.1 387L467.6 312.6" stroke="#0000ff" stroke-width="1" fill="none" />
<path d="M518.2 387.3H536.5" stroke="#0000ff" stroke-width="1" fill="none" />
<text x="522.6" y="386.5" font-size="9.72" fill="#0000ff" textLength="8.4" lengthAdjust="spacingAndGlyphs">56</text>
<path d="M518.2 387L467 300" stroke="#0000ff" stroke-width="1" fill="none" />
<path d="M546.2 387.3H564.5" stroke="#0000ff" stroke-width="1" fill="none" />
<text x="550.5" y="386.5" font-size="9.72" fill="#0000ff" textLength="8.4" lengthAdjust="spacingAndGlyphs">66</text>
<path d="M546.2 387L506.6 283" stroke="#0000ff" stroke-width="1" fill="none" />
<text x="280.5" y="386" font-size="6.94" fill="#000000" textLength="4.0" lengthAdjust="spacingAndGlyphs">Б</text>
<polygon points="456.5,82.6 456.4,84.2 456.2,85.9 455.7,87.5 455.1,89.0 453.4,89.8 452.5,91.1 451.6,92.3 450.5,93.4 449.3,94.3 448.7,96.2 447.2,96.9 445.7,97.5 444.1,98.0 442.4,98.2 440.8,97.1 439.3,97.0 437.8,96.8 436.3,96.4 434.9,95.8 432.9,96.2 431.6,95.3 430.3,94.3 429.1,93.1 428.1,91.8 428.2,89.8 427.6,88.5 427.0,87.1 426.6,85.6 426.4,84.1 425.1,82.6 425.2,81.0 425.4,79.3 425.9,77.7 426.5,76.2 428.2,75.3 429.1,74.1 430.0,72.9 431.1,71.8 432.3,70.9 432.9,69.0 434.4,68.3 435.9,67.7 437.5,67.2 439.2,67.0 440.8,68.1 442.3,68.2 443.8,68.4 445.3,68.8 446.7,69.4 448.7,69.0 450.0,69.9 451.3,70.9 452.5,72.1 453.5,73.4 453.4,75.3 454.0,76.7 454.6,78.1 455.0,79.6 455.2,81.1 456.5,82.6" fill="#fff" stroke="#0000ff" stroke-width="1"/>
<circle cx="440.8" cy="82.6" r="10.5" fill="url(#xh)" stroke="#0000ff" stroke-width="3" />
<path d="M432 80L441 90M438 73L449 85" stroke="#fff" stroke-width="1.2" fill="none" />
<path d="M440.8 65V101.5M418 82.6H462.9" stroke="#008000" stroke-width="1.2" fill="none" />
<text x="470.4" y="55" font-size="9.03" fill="#0000ff" textLength="12.9" lengthAdjust="spacingAndGlyphs">В-В</text>
<text x="224" y="98.5" font-size="4.5" fill="#0000ff" textLength="9" lengthAdjust="spacingAndGlyphs">M24</text>
<text x="222" y="191.5" font-size="4.5" fill="#0000ff" textLength="15" lengthAdjust="spacingAndGlyphs">ø55k6</text>
<text x="222" y="198" font-size="4.5" fill="#0000ff" textLength="12" lengthAdjust="spacingAndGlyphs">ø 35</text>
<text x="223" y="206" font-size="4.5" fill="#0000ff" textLength="10" lengthAdjust="spacingAndGlyphs">ø35</text>
<text x="223" y="224" font-size="4.5" fill="#0000ff" textLength="10" lengthAdjust="spacingAndGlyphs">ø35</text>
<text x="222" y="238.5" font-size="4.5" fill="#0000ff" textLength="12" lengthAdjust="spacingAndGlyphs">ø 35</text>
<text x="222" y="259" font-size="4.5" fill="#0000ff" textLength="14" lengthAdjust="spacingAndGlyphs">ø40m6</text>
<text x="222" y="295.5" font-size="4.5" fill="#0000ff" textLength="14" lengthAdjust="spacingAndGlyphs">ø40m6</text>
<text x="222" y="323" font-size="4.5" fill="#0000ff" textLength="14" lengthAdjust="spacingAndGlyphs">ø40m6</text>
<text x="222" y="375" font-size="4.5" fill="#0000ff" textLength="15" lengthAdjust="spacingAndGlyphs">ø62H7</text>
<text x="333" y="187.5" font-size="4.5" fill="#0000ff" textLength="15" lengthAdjust="spacingAndGlyphs">ø62H7</text>
<text x="334" y="224.5" font-size="4.5" fill="#0000ff" textLength="11" lengthAdjust="spacingAndGlyphs">ø30</text>
<text x="334" y="238" font-size="4.5" fill="#0000ff" textLength="13" lengthAdjust="spacingAndGlyphs">ø30k6</text>
<text x="334" y="257" font-size="4.5" fill="#0000ff" textLength="13" lengthAdjust="spacingAndGlyphs">ø30k6</text>
<text x="334" y="374" font-size="4.5" fill="#0000ff" textLength="15" lengthAdjust="spacingAndGlyphs">ø62H7</text>
<text x="306" y="211" font-size="4.5" fill="#0000ff" textLength="3" lengthAdjust="spacingAndGlyphs">5</text>
<text x="0" y="0" font-size="4.5" fill="#0000ff" transform="translate(416 287) rotate(-90)">ø40</text>
<text x="0" y="0" font-size="4.5" fill="#0000ff" transform="translate(438 287) rotate(-90)">ø40</text>
<text x="0" y="0" font-size="4.5" fill="#0000ff" transform="translate(481 288) rotate(-90)">ø52</text>
<text x="0" y="0" font-size="4.5" fill="#0000ff" transform="translate(489 288) rotate(-90)">ø62</text>
<path d="M129.8 131V181M128 132H131M128 180H131" stroke="#0000ff" stroke-width="1" fill="none" />
<circle cx="160.5" cy="157.5" r="15" fill="url(#h2)" stroke="#0000ff" stroke-width="1.4" />
<rect x="156.2" y="140.2" width="8.5" height="4.800000000000011" fill="url(#xh)" stroke="#0000ff" stroke-width="1.6" />
<path d="M137 142H156M164.7 140.2H183M164.7 145H183M181 133.9V151.5" stroke="#0000ff" stroke-width="1" fill="none" />
<path d="M137 157.5H160M138.9 142V157.5" stroke="#0000ff" stroke-width="1" fill="none" />
<path d="M145.2 157V179.2M175.6 157V179.2M145.2 178.5H175.6" stroke="#0000ff" stroke-width="1" fill="none" />
<path d="M160.5 120.7V174M160.5 157.5H188" stroke="#008000" stroke-width="1.2" fill="none" />
<rect x="655" y="103.4" width="80.3" height="79.7" rx="9" fill="none" stroke="#0000ff" stroke-width="1.3"/>
<circle cx="694.7" cy="143.1" r="24.5" fill="none" stroke="#0000ff" stroke-width="1.3" />
<circle cx="669" cy="115.1" r="5.6" fill="none" stroke="#0000ff" stroke-width="1.2" />
<circle cx="669" cy="115.1" r="3.5" fill="none" stroke="#0000ff" stroke-width="1" />
<path d="M661 115.1H677M669 107.1V123.1" stroke="#00e0ff" stroke-width="1" fill="none" />
<circle cx="720.2" cy="115.1" r="5.6" fill="none" stroke="#0000ff" stroke-width="1.2" />
<circle cx="720.2" cy="115.1" r="3.5" fill="none" stroke="#0000ff" stroke-width="1" />
<path d="M712.2 115.1H728.2M720.2 107.1V123.1" stroke="#00e0ff" stroke-width="1" fill="none" />
<circle cx="669" cy="170.5" r="5.6" fill="none" stroke="#0000ff" stroke-width="1.2" />
<circle cx="669" cy="170.5" r="3.5" fill="none" stroke="#0000ff" stroke-width="1" />
<path d="M661 170.5H677M669 162.5V178.5" stroke="#00e0ff" stroke-width="1" fill="none" />
<circle cx="720.2" cy="170.5" r="5.6" fill="none" stroke="#0000ff" stroke-width="1.2" />
<circle cx="720.2" cy="170.5" r="3.5" fill="none" stroke="#0000ff" stroke-width="1" />
<path d="M712.2 170.5H728.2M720.2 162.5V178.5" stroke="#00e0ff" stroke-width="1" fill="none" />
<path d="M637 143.1H741.7M694.7 93.6V209.7" stroke="#00e0ff" stroke-width="1.3" fill="none" />
<path d="M735 103.4H750M735 183H750M748.2 103.4V183" stroke="#0000ff" stroke-width="1" fill="none" />
<path d="M669 170.5L638 208.3H622M694.7 143.1L678 162" stroke="#0000ff" stroke-width="1" fill="none" />
<path d="M652 90L648 98L656 104M646 101L652 95" stroke="#000000" stroke-width="1.5" fill="none" />
<path d="M691 124L686 131L694 137M685 133L691 128" stroke="#000000" stroke-width="1.5" fill="none" />
<text x="691.5" y="78.5" font-size="9.72" fill="#0000ff" textLength="5.5" lengthAdjust="spacingAndGlyphs">Д</text>
<text x="671.5" y="261" font-size="9.72" fill="#0000ff" textLength="12.0" lengthAdjust="spacingAndGlyphs">Е-Е</text>
<rect x="675.2" y="277.9" width="17.59999999999991" height="31.700000000000045" fill="url(#xh)" stroke="#0000ff" stroke-width="1.6" />
<rect x="666" y="285" width="10" height="16.2" rx="2" fill="#0000ff"/>
<path d="M669 291L672 289M669 295H673M670 298L673 296" stroke="#fff" stroke-width="1" fill="none" />
<rect x="676" y="289.8" width="12.799999999999955" height="7.0" fill="#fff" stroke="none" />
<rect x="688.8" y="289.8" width="4.0" height="7.0" fill="#0000ff" stroke="none" />
<path d="M676 293.3H688.8M680.6 289.8V296.8" stroke="#0000ff" stroke-width="1.2" fill="none" />
<path d="M664.2 293.3H705.5" stroke="#0000ff" stroke-width="1.3" fill="none" />
<path d="M679 280L685 287M687 280L692 287M679 299L685 307M687 299L692 307" stroke="#fff" stroke-width="1.2" fill="none" />
<path d="M685.3 278V289.8M685.3 296.8V309.6" stroke="#0000ff" stroke-width="1" fill="none" />
<text x="499" y="460.2" font-size="8.33" fill="#0000ff" textLength="12.9" lengthAdjust="spacingAndGlyphs">Г-Г</text>
<polygon points="500,476 510,476 515,481 515,489 510,494 500,494 496,489 496,481" fill="url(#xh)" stroke="#0000ff" stroke-width="1"/>
<path d="M491.6 476.7H506M491.6 493.5H515M491.6 476.7V493.5M506 476V470H515V494" stroke="#0000ff" stroke-width="1.2" fill="none" />
<path d="M496 484.6H517M506 474V495" stroke="#000000" stroke-width="2" fill="none" />
<path d="M520.4 476V495M515 484H525M525 483.4H546M517 495H530" stroke="#0000ff" stroke-width="1.2" fill="none" />
<text x="527" y="481" font-size="5" fill="#0000ff" >1:1,5</text>
<text x="139.4" y="462.7" font-size="7.64" fill="#000000" textLength="12.6" lengthAdjust="spacingAndGlyphs">А-А</text>
<path d="M124.1 475.4H136C134 478 134 484 137 486.5H147.1V537.8H124.1Z" stroke="none" stroke-width="0" fill="url(#xg)" />
<path d="M124.1 519.2H134.5V526H147.1V537.8H124.1Z" stroke="none" stroke-width="0" fill="#fff" />
<rect x="147.1" y="486.5" width="14.200000000000017" height="51.299999999999955" fill="url(#xg)" stroke="none" />
<path d="M152 490L160 500M150 525L160 533" stroke="#fff" stroke-width="1" fill="none" />
<path d="M119 478C117 486 119 494 118 500C117 510 118 522 120 530C124 536 140 538 161.3 537.8V475.4C150 474 135 475 121 475.4C120 476 119 477 119 478Z" stroke="#00e000" stroke-width="2" fill="none" />
<path d="M124.1 475.4V537M137 486.5C133 484 134 477 139 476.1H159.8M124.1 508.1H146.4M134.5 519.2V526H147.1M124.1 519.2H134.5M147.1 486.5V537.8" stroke="#00e000" stroke-width="1.6" fill="none" />
<path d="M127 485L143 502M138 516L146 508" stroke="#fff" stroke-width="1" fill="none" />
<path d="M152.3 468V548M146.4 519V548M140.5 546H175" stroke="#0000ff" stroke-width="1.3" fill="none" />
<path d="M149.4 485V530" stroke="#00e0ff" stroke-width="1.2" fill="none" stroke-dasharray="3 1"/>
<path d="M149.4 487.3H175M149.4 521.5H175M174 487.3V521.5" stroke="#000000" stroke-width="1.2" fill="none" />
<path d="M147 480L151 478M147 480L150 483" stroke="#ff0000" stroke-width="1.2" fill="none" />
<rect x="146" y="497.5" width="6" height="6.5" fill="url(#xh)" stroke="none" style="filter:grayscale(1)"/>
<path d="M153 497L180 465H211M155 505L178 479H197" stroke="#0000ff" stroke-width="1" fill="none" />
<text x="182" y="463" font-size="9.72" fill="#0000ff" textLength="16.8" lengthAdjust="spacingAndGlyphs">1 30</text>
<text x="184" y="477" font-size="9.72" fill="#0000ff" textLength="8.4" lengthAdjust="spacingAndGlyphs">69</text>
<text x="157" y="545" font-size="4.17" fill="#0000ff" textLength="12.5" lengthAdjust="spacingAndGlyphs">1 : 2</text>
<text x="281.3" y="462.1" font-size="8.33" fill="#000000" textLength="11.7" lengthAdjust="spacingAndGlyphs">Б-Б</text>
<path d="M272 472.2H280.6V485L287 491V503.7H272ZM272 503.7H287V520H278V510H272ZM297 482H301.5V530.5H297Z" stroke="none" stroke-width="0" fill="url(#xh)" />
<path d="M264 472.2C259 476 262 488 261.6 500C261 512 262 526 266 531.8H303.8V472.2C295 471 280 473 264 472.2Z" stroke="#0000ff" stroke-width="1.2" fill="none" />
<path d="M272 472V532" stroke="#0000ff" stroke-width="2.5" fill="none" />
<path d="M303.8 472V531M272 504.3H304M280.6 472.2V485L287 491M278 510V520H287" stroke="#0000ff" stroke-width="1" fill="none" />
<rect x="282.5" y="482" width="17.7" height="9.2" rx="3" fill="#0000ff"/>
<path d="M285 484V489M288.5 484V489M292 484V489M295.5 484V489" stroke="#fff" stroke-width="1" fill="none" />
<rect x="287.1" y="491.2" width="8.5" height="28.80000000000001" fill="#fff" stroke="#0000ff" stroke-width="2" />
<path d="M290.4 491V520M287 503.7H296" stroke="#0000ff" stroke-width="1" fill="none" />
<path d="M290.4 476.1V482" stroke="#ff0000" stroke-width="1" fill="none" />
<path d="M303 490L313 468H328M303 500L313 478H327M303 505L335 477H347M320 492L324 488" stroke="#0000ff" stroke-width="1" fill="none" />
<text x="318" y="466" font-size="9.72" fill="#0000ff" textLength="8.4" lengthAdjust="spacingAndGlyphs">62</text>
<text x="318" y="477" font-size="9.72" fill="#0000ff" textLength="8.4" lengthAdjust="spacingAndGlyphs">50</text>
<text x="338" y="474" font-size="9.72" fill="#0000ff" textLength="4.2" lengthAdjust="spacingAndGlyphs">Г</text>
<text x="639" y="368" font-size="6.5" fill="#000000" stroke="#000000" stroke-width="0.25" textLength="70" lengthAdjust="spacingAndGlyphs" >Техническая характеристика</text>
<text x="615" y="386.8" font-size="5.5" fill="#000" stroke="#000" stroke-width="0.2" textLength="74.79999999999995" lengthAdjust="spacingAndGlyphs">Допускаемый момент на выходном валу, Н·м</text>
<text x="705.2" y="386.8" font-size="5.5" fill="#000" stroke="#000" stroke-width="0.2" textLength="5.599999999999909" lengthAdjust="spacingAndGlyphs">130</text>
<text x="615" y="396.6" font-size="5.5" fill="#000" stroke="#000" stroke-width="0.2" textLength="46.799999999999955" lengthAdjust="spacingAndGlyphs">Общее передаточное число</text>
<text x="694.7" y="396.6" font-size="5.5" fill="#000" stroke="#000" stroke-width="0.2" textLength="7.699999999999932" lengthAdjust="spacing">2,5</text>
<text x="615" y="406.7" font-size="5.5" fill="#000" stroke="#000" stroke-width="0.2" textLength="79" lengthAdjust="spacingAndGlyphs">Частота вращения быстроходного вала, об/мин</text>
<text x="703.8" y="406.7" font-size="5.5" fill="#000" stroke="#000" stroke-width="0.2" textLength="9.800000000000068" lengthAdjust="spacingAndGlyphs">1000</text>
<text x="615" y="416.6" font-size="5.5" fill="#000" stroke="#000" stroke-width="0.2" textLength="91.60000000000002" lengthAdjust="spacingAndGlyphs">Число оборотов тихоходного вала в минуту, 1/мин</text>
<text x="708.7" y="416.6" font-size="5.5" fill="#000" stroke="#000" stroke-width="0.2" textLength="6.2999999999999545" lengthAdjust="spacingAndGlyphs">3,5</text>
<text x="615" y="424.6" font-size="5.5" fill="#000" stroke="#000" stroke-width="0.2" textLength="92.29999999999995" lengthAdjust="spacingAndGlyphs">Мощность на быстроходном валу передачи, кВт</text>
<text x="708.7" y="424.6" font-size="5.5" fill="#000" stroke="#000" stroke-width="0.2" textLength="6.2999999999999545" lengthAdjust="spacingAndGlyphs">1,5</text>
<text x="615" y="433.7" font-size="5.5" fill="#000" stroke="#000" stroke-width="0.2" textLength="59.39999999999998" lengthAdjust="spacingAndGlyphs">Коэффициент полезного действия</text>
<text x="701.7" y="433.7" font-size="5.5" fill="#000" stroke="#000" stroke-width="0.2" textLength="7.0" lengthAdjust="spacingAndGlyphs">0,9</text>
<text x="615" y="442.5" font-size="5.5" fill="#000" stroke="#000" stroke-width="0.2" textLength="84.60000000000002" lengthAdjust="spacingAndGlyphs">Передаточное число конической передачи</text>
<text x="707.3" y="442.5" font-size="5.5" fill="#000" stroke="#000" stroke-width="0.2" textLength="7.7000000000000455" lengthAdjust="spacing">2,5</text>
<text x="615" y="450.5" font-size="5.5" fill="#000" stroke="#000" stroke-width="0.2" textLength="32" lengthAdjust="spacing">Масса, кг</text>
<text x="692.6" y="450.5" font-size="5.5" fill="#000" stroke="#000" stroke-width="0.2" textLength="7.0" lengthAdjust="spacing">15</text>
<text x="644" y="469" font-size="6.5" fill="#000000" stroke="#000000" stroke-width="0.25" textLength="58" lengthAdjust="spacingAndGlyphs" >Технические требования</text>
<text x="683.5" y="536.5" font-size="10" fill="#0000ff" textLength="32" lengthAdjust="spacingAndGlyphs">Редуктор</text>
<text x="778" y="534" font-size="6" fill="#0000ff" >11</text>
<text x="615" y="529" font-size="4" fill="#0000ff" textLength="14" lengthAdjust="spacingAndGlyphs">Изм Лист</text>
<text x="632" y="529" font-size="4" fill="#0000ff" textLength="18" lengthAdjust="spacingAndGlyphs">№ докум.</text>
<text x="654" y="529" font-size="4" fill="#0000ff" textLength="11" lengthAdjust="spacingAndGlyphs">Подп.</text>
<text x="668" y="529" font-size="4" fill="#0000ff" textLength="7" lengthAdjust="spacingAndGlyphs">Дата</text>
<text x="615" y="533" font-size="4" fill="#0000ff" textLength="14" lengthAdjust="spacingAndGlyphs">Разраб.</text>
<text x="632" y="533" font-size="4" fill="#0000ff" textLength="16" lengthAdjust="spacingAndGlyphs">Ерохин</text>
<text x="615" y="537.5" font-size="4" fill="#0000ff" textLength="10" lengthAdjust="spacingAndGlyphs">Пров.</text>
<text x="615" y="546" font-size="4" fill="#0000ff" textLength="12" lengthAdjust="spacingAndGlyphs">Т.контр.</text>
<text x="615" y="554" font-size="4" fill="#0000ff" textLength="11" lengthAdjust="spacingAndGlyphs">Н.контр.</text>
<text x="615" y="558" font-size="4" fill="#0000ff" textLength="8" lengthAdjust="spacingAndGlyphs">Утв.</text>
<rect x="632" y="534" width="15" height="5" fill="#ff0000"/>
<text x="633" y="538" font-size="4" fill="#fff" textLength="13" lengthAdjust="spacingAndGlyphs">Швецов</text>
<text x="745" y="525.5" font-size="4" fill="#0000ff" textLength="7" lengthAdjust="spacingAndGlyphs">Лит.</text>
<text x="758" y="525.5" font-size="4" fill="#0000ff" textLength="11" lengthAdjust="spacingAndGlyphs">Масса</text>
<text x="774" y="525.5" font-size="4" fill="#0000ff" textLength="13" lengthAdjust="spacingAndGlyphs">Масштаб</text>
<text x="745" y="542.5" font-size="4" fill="#0000ff" textLength="8" lengthAdjust="spacingAndGlyphs">Лист</text>
<text x="762" y="542.5" font-size="4" fill="#0000ff" textLength="11" lengthAdjust="spacingAndGlyphs">Листов</text>
<text x="783" y="542.5" font-size="4" fill="#0000ff" textLength="3" lengthAdjust="spacingAndGlyphs">1</text>
<text x="745" y="550" font-size="4.5" fill="#000000" textLength="32" lengthAdjust="spacingAndGlyphs">ЧГПУ им. Якова</text>
<text x="745" y="555" font-size="4.5" fill="#000000" textLength="15" lengthAdjust="spacingAndGlyphs">гр. 33</text>
<text x="745" y="559" font-size="4.5" fill="#000000" textLength="23" lengthAdjust="spacingAndGlyphs">Кафедра ОТД</text>
<rect x="698" y="561" width="18" height="4" fill="#fff"/><rect x="757" y="561" width="18" height="4" fill="#fff"/>
<text x="699" y="564" font-size="4.5" fill="#0000ff" textLength="15" lengthAdjust="spacingAndGlyphs">Копировал</text>
<text x="759" y="564" font-size="4.5" fill="#0000ff" textLength="15" lengthAdjust="spacingAndGlyphs">Формат А3</text>
<rect x="7" y="306.7" width="5" height="20" fill="#fff"/>
<text x="0" y="0" font-size="4.5" fill="#0000ff" text-anchor="middle" textLength="18" lengthAdjust="spacingAndGlyphs" transform="translate(11 316.7) rotate(-90)">Инв. № подл.</text>
<rect x="7" y="364.0" width="5" height="16" fill="#fff"/>
<text x="0" y="0" font-size="4.5" fill="#0000ff" text-anchor="middle" textLength="14" lengthAdjust="spacingAndGlyphs" transform="translate(11 372) rotate(-90)">Подп. и дата</text>
<rect x="7" y="428.4" width="5" height="20" fill="#fff"/>
<text x="0" y="0" font-size="4.5" fill="#0000ff" text-anchor="middle" textLength="18" lengthAdjust="spacingAndGlyphs" transform="translate(11 438.4) rotate(-90)">Взам. инв. №</text>
<rect x="7" y="456.6" width="5" height="20" fill="#fff"/>
<text x="0" y="0" font-size="4.5" fill="#0000ff" text-anchor="middle" textLength="18" lengthAdjust="spacingAndGlyphs" transform="translate(11 466.6) rotate(-90)">Инв. № дубл.</text>
<rect x="7" y="482.0" width="5" height="18" fill="#fff"/>
<text x="0" y="0" font-size="4.5" fill="#0000ff" text-anchor="middle" textLength="16" lengthAdjust="spacingAndGlyphs" transform="translate(11 491) rotate(-90)">Подп. и дата</text>
<rect x="7" y="508.0" width="5" height="22" fill="#fff"/>
<text x="0" y="0" font-size="4.5" fill="#0000ff" text-anchor="middle" textLength="20" lengthAdjust="spacingAndGlyphs" transform="translate(11 519) rotate(-90)">Справ. №</text>
<rect x="7" y="536.0" width="5" height="20" fill="#fff"/>
<text x="0" y="0" font-size="4.5" fill="#0000ff" text-anchor="middle" textLength="18" lengthAdjust="spacingAndGlyphs" transform="translate(11 546) rotate(-90)">Перв. примен.</text>

</svg>
</body></html>
